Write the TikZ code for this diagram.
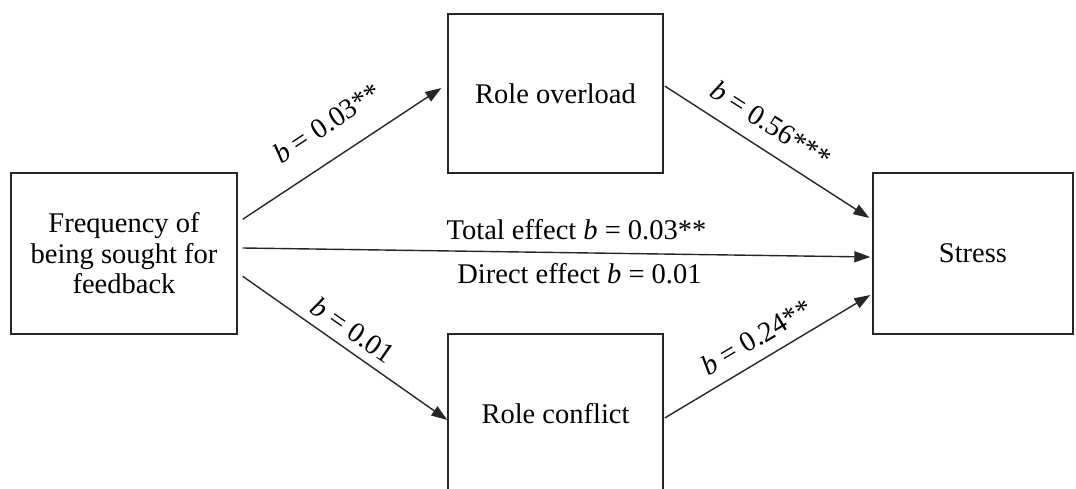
\documentclass[tikz,border=0pt]{standalone}
\usepackage{fontspec}
\setmainfont{Liberation Serif}
\usetikzlibrary{arrows.meta,calc}
\begin{document}
\begin{tikzpicture}[x=1pt,y=-1pt,
  box/.style={draw=black!85, line width=1.4pt, inner sep=0pt, align=center,
    font=\fontsize{28.5}{30.5}\selectfont},
  conn/.style={draw=black!85, line width=1.4pt, -{Triangle[length=16pt,width=11pt]}},
  lab/.style={inner sep=0pt, font=\fontsize{28.5}{30.5}\selectfont}]
\useasboundingbox (0,0) rectangle (1076,489);
\clip (0,0) rectangle (1076,489);
\node[box, minimum width=226pt, minimum height=161pt] (freq) at (124,253.5)
  {Frequency of\\being sought for\\feedback};
\node[box, minimum width=215pt, minimum height=159pt] (over) at (555.5,93.5) {Role overload};
\node[box, minimum width=215pt, minimum height=159pt] (conf) at (555.5,413.5) {Role conflict};
\node[box, minimum width=200pt, minimum height=161pt] (stress) at (973,253.5) {Stress};

\draw[conn] ($(freq.north east)+(5,47)$) -- ($(over.west)+(-6,-5.5)$);
\draw[conn] ($(over.east)+(1,-7.5)$) -- ($(stress.west)+(-3,-35.5)$);
\draw[conn] ($(freq.north east)+(5,104)$) -- ($(conf.west)+(0,6.5)$);
\draw[conn] ($(conf.east)+(1,4.5)$) -- ($(stress.west)+(-2,41.5)$);
\draw[conn] ($(freq.east)+(5,-5.5)$) -- ($(stress.west)+(-2,3.5)$);

\node[lab, rotate=33.4] (l1) at (327,123) {\textit{b} = 0.03**};
\node[lab, rotate=-32.6] (l2) at (771,124) {\textit{b} = 0.56***};
\node[lab, rotate=-34.8] (l3) at (353,330) {\textit{b} = 0.01};
\node[lab, rotate=30.7] (l4) at (756.5,337) {\textit{b} = 0.24**};
\node[lab, anchor=base] (tot) at (576.5,240) {Total effect \textit{b} = 0.03**};
\node[lab, anchor=base] (dir) at (579.5,283) {Direct effect \textit{b} = 0.01};
\end{tikzpicture}
\end{document}
